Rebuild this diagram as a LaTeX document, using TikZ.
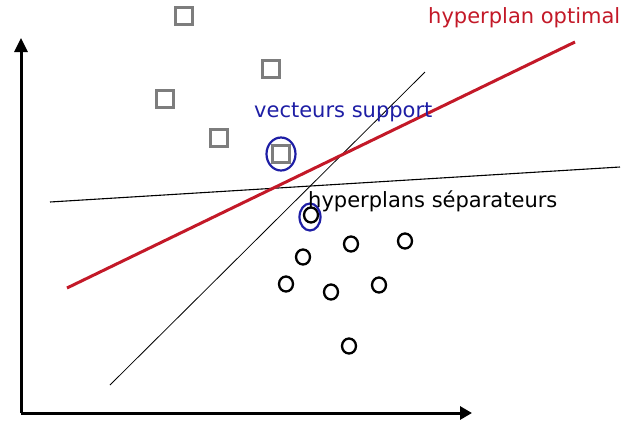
\documentclass[tikz,border=0pt]{standalone}
\usepackage{fontspec}
\setmainfont{DejaVu Sans}
\usetikzlibrary{arrows.meta,shapes.geometric}
\definecolor{optred}{RGB}{195,25,40}
\definecolor{supblue}{RGB}{30,30,165}
\definecolor{sqgray}{RGB}{125,125,125}
\tikzset{
  sq/.style={draw=sqgray,line width=2.5pt,minimum size=17pt,inner sep=0pt},
  pt/.style={draw=black,ellipse,line width=2.3pt,minimum width=14pt,minimum height=15pt,inner sep=0pt},
  sv/.style={draw=supblue,ellipse,line width=2.2pt,inner sep=0pt},
  lbl/.style={anchor=west,inner sep=0pt,font=\fontsize{21}{24}\selectfont}
}
\begin{document}
\begin{tikzpicture}[x=1pt,y=-1pt]
\useasboundingbox (0,0) rectangle (622,424);

% Axes
\coordinate (o) at (21,413);
\coordinate (ytip) at (21,38);
\coordinate (xtip) at (472,413);
\draw[line width=3pt,-{Triangle[length=14pt,width=13pt]}] (o) -- (ytip);
\draw[line width=3pt,-{Triangle[length=12pt,width=13pt]}] (o) -- (xtip);

% Class 1 (squares)
\node[sq] (s1) at (184,16) {};
\node[sq] (s2) at (271,69) {};
\node[sq] (s3) at (165,99) {};
\node[sq] (s4) at (219,138) {};
\node[sq] (s5) at (281,154) {};

% Class 2 (circles)
\node[pt] (c1) at (311,215) {};
\node[pt] (c2) at (351,244) {};
\node[pt] (c3) at (405,241) {};
\node[pt] (c4) at (303,257) {};
\node[pt] (c5) at (286,284) {};
\node[pt] (c6) at (331,292) {};
\node[pt] (c7) at (379,285) {};
\node[pt] (c8) at (349,346) {};

% Separating hyperplans
\coordinate (h1a) at (50,202);
\coordinate (h1b) at (620,167);
\coordinate (h2a) at (110,385);
\coordinate (h2b) at (425,72);
\draw[line width=1.1pt] (h1a) -- (h1b);
\draw[line width=0.8pt] (h2a) -- (h2b);

% Optimal hyperplan
\coordinate (opa) at (67,288);
\coordinate (opb) at (575,42);
\draw[optred,line width=3pt] (opa) -- (opb);

% Support vectors
\node[sv,minimum width=29pt,minimum height=33pt] (v1) at (281,154) {};
\node[sv,minimum width=21pt,minimum height=27pt] (v2) at (310,217) {};

% Labels
\node[lbl,text=optred] (lopt) at (428,18) {hyperplan optimal};
\node[lbl,text=supblue] (lsup) at (254,112) {vecteurs support};
\node[lbl] (lsep) at (308,201) {hyperplans séparateurs};
\end{tikzpicture}
\end{document}
